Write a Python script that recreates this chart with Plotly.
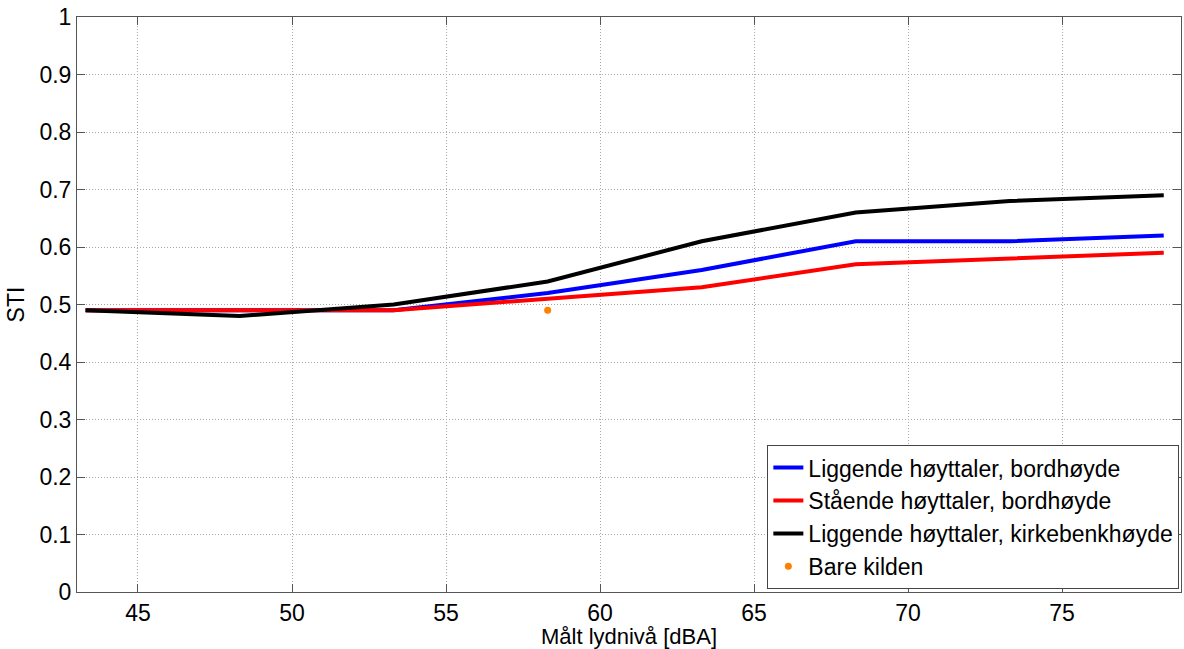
import plotly.graph_objects as go

levels = [43.3, 48.3, 53.3, 58.3, 63.3, 68.3, 73.3, 78.3]
sti_liggende_bord = [0.49, 0.49, 0.49, 0.52, 0.56, 0.61, 0.61, 0.62]
sti_staende_bord = [0.49, 0.49, 0.49, 0.51, 0.53, 0.57, 0.58, 0.59]
sti_liggende_kirke = [0.49, 0.48, 0.50, 0.54, 0.61, 0.66, 0.68, 0.69]
bare_kilden_x = [58.3]
bare_kilden_y = [0.49]

x_ticks = [45, 50, 55, 60, 65, 70, 75]
y_ticks = [0, 0.1, 0.2, 0.3, 0.4, 0.5, 0.6, 0.7, 0.8, 0.9, 1]
y_tick_labels = ["0", "0.1", "0.2", "0.3", "0.4", "0.5", "0.6", "0.7", "0.8", "0.9", "1"]

FONT = "Liberation Sans, Arial, sans-serif"
FS = 23

fig = go.Figure()
fig.add_trace(go.Scatter(x=levels, y=sti_liggende_bord, mode="lines",
                         line=dict(color="#0000FF", width=4),
                         name="Liggende høyttaler, bordhøyde"))
fig.add_trace(go.Scatter(x=levels, y=sti_staende_bord, mode="lines",
                         line=dict(color="#FF0000", width=4),
                         name="Stående høyttaler, bordhøyde"))
fig.add_trace(go.Scatter(x=levels, y=sti_liggende_kirke, mode="lines",
                         line=dict(color="#000000", width=4),
                         name="Liggende høyttaler, kirkebenkhøyde"))
fig.add_trace(go.Scatter(x=bare_kilden_x, y=bare_kilden_y, mode="markers",
                         marker=dict(color="#FF8000", size=7),
                         name="Bare kilden"))

axis_common = dict(
    showline=True, linecolor="#555555", linewidth=1, mirror="ticks",
    ticks="inside", ticklen=8, tickcolor="#555555",
    showgrid=True, gridcolor="#a8a8a8", griddash="1px,2px", gridwidth=1,
    zeroline=False,
    tickfont=dict(family=FONT, size=FS, color="#000"),
)

fig.update_layout(
    width=1184, height=649,
    margin=dict(l=77, r=3, t=17, b=57),
    paper_bgcolor="white", plot_bgcolor="white",
    font=dict(family=FONT, size=FS, color="#000"),
    xaxis=dict(range=[43.02, 78.86], tickvals=x_ticks,
               title=dict(text="Målt lydnivå [dBA]", standoff=1,
                          font=dict(size=22)), **axis_common),
    yaxis=dict(range=[0, 1], tickvals=y_ticks, ticktext=y_tick_labels,
               title=dict(text="STI", standoff=8, font=dict(size=FS)), **axis_common),
    legend=dict(x=0.9985, y=0.005, xanchor="right", yanchor="bottom",
                bgcolor="white", bordercolor="#444444", borderwidth=1,
                font=dict(size=FS), tracegroupgap=0, itemwidth=30),
    showlegend=True,
)

fig.write_html("out.html")
